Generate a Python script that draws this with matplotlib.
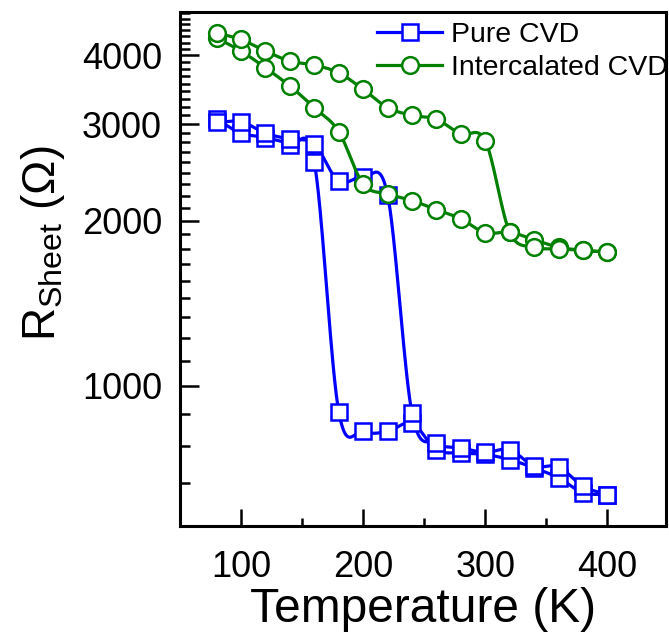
import numpy as np
import matplotlib
matplotlib.use('Agg')
import matplotlib.pyplot as plt
from matplotlib.lines import Line2D
from matplotlib.ticker import FixedLocator, MultipleLocator, NullFormatter

plt.rcParams['font.family'] = ['Liberation Sans', 'DejaVu Sans']
plt.rcParams['mathtext.fontset'] = 'custom'
plt.rcParams['mathtext.rm'] = 'Liberation Sans'
plt.rcParams['mathtext.it'] = 'Liberation Sans:italic'

# temperatures (K), same for every branch
temps = [80, 100, 120, 140, 160, 180, 200, 220, 240, 260, 280, 300, 320, 340, 360, 380, 400]

# Pure CVD, two branches of the hysteresis loop (Ohm)
pure_a = [3060, 2887, 2835, 2749, 2554, 898, 826, 826, 855, 765, 755, 750, 734, 709, 680, 639, 634]
pure_b = [3020, 3030, 2887, 2815, 2757, 2358, 2399, 2228, 892, 787, 771, 757, 765, 714, 712, 656, 634]

# Intercalated CVD, two branches (Ohm)
inter_c = [4305, 4073, 3798, 3518, 3214, 2906, 2333, 2237, 2176, 2095, 2016, 1901, 1906, 1846, 1790, 1766, 1753]
inter_d = [4395, 4277, 4073, 3906, 3841, 3720, 3470, 3214, 3112, 3060, 2875, 2796, 1906, 1790, 1777, 1766, 1753]

y_major = [1000, 2000, 3000, 4000]

BLUE = '#0000ff'
GREEN = '#008000'


def smooth(t, r, n=30):
    # cubic (Catmull-Rom) curve through the points, done in log space like the log axis
    x = np.asarray(t, float)
    y = np.log10(np.asarray(r, float))
    m = np.gradient(y)
    s = np.linspace(0, 1, n, endpoint=False)
    h00 = 2*s**3 - 3*s**2 + 1
    h10 = s**3 - 2*s**2 + s
    h01 = -2*s**3 + 3*s**2
    h11 = s**3 - s**2
    xs, ys = [], []
    for i in range(len(x) - 1):
        xs.append(x[i] + s*(x[i+1] - x[i]))
        ys.append(h00*y[i] + h10*m[i] + h01*y[i+1] + h11*m[i+1])
    xs.append([x[-1]])
    ys.append([y[-1]])
    return np.concatenate(xs), 10**np.concatenate(ys)


fig = plt.figure(figsize=(6.69, 6.34), dpi=100)
ax = fig.add_axes([180/669, 1 - 526/634, (666 - 180)/669, (526 - 12)/634])
ax.set_yscale('log')

lw = 2.3
for data, col, mk, ms, z in [(pure_a, BLUE, 's', 11, 3), (pure_b, BLUE, 's', 11, 3),
                             (inter_c, GREEN, 'o', 12, 5), (inter_d, GREEN, 'o', 12, 5)]:
    xs, ys = smooth(temps, data)
    ax.plot(xs, ys, color=col, lw=lw, zorder=z)
    ax.plot(temps, data, ls='none', marker=mk, ms=ms, mfc='white', mec=col, mew=1.8, zorder=z + 1)

ax.set_xlim(50, 448)
ax.set_ylim(555.6, 4800)

ax.xaxis.set_major_locator(MultipleLocator(100))
ax.xaxis.set_minor_locator(MultipleLocator(50))
ax.set_yticks(y_major, labels=[str(v) for v in y_major])
# minor ticks: 8 per 1000 step
minors = [v for v in np.arange(0, 5000, 1000/9) if 550 < v < 4800 and round(v) % 1000 != 0]
ax.yaxis.set_minor_locator(FixedLocator(minors))
ax.yaxis.set_minor_formatter(NullFormatter())

ax.tick_params(which='both', direction='in', top=False, right=False, width=1.8, labelsize=26)
ax.tick_params(axis='y', which='major', length=14, pad=13)
ax.tick_params(axis='y', which='minor', length=7.5)
ax.tick_params(axis='x', which='major', length=12, pad=17)
ax.tick_params(axis='x', which='minor', length=6)
for sp in ax.spines.values():
    sp.set_linewidth(2.2)

ax.set_xlabel('Temperature (K)', fontsize=34.5)
ax.xaxis.set_label_coords(0.5, -0.118)
ax.xaxis.label.set_va('top')
ax.set_ylabel(r'R$_{\mathrm{Sheet}}$ (Ω)', fontsize=33)
ax.yaxis.set_label_coords(-0.232, 0.55)

handles = [Line2D([], [], color=BLUE, lw=lw, marker='s', ms=11, mfc='white', mec=BLUE, mew=1.8),
           Line2D([], [], color=GREEN, lw=lw, marker='o', ms=12, mfc='white', mec=GREEN, mew=1.8)]
ax.legend(handles, ['Pure CVD', 'Intercalated CVD'], loc='upper left', bbox_to_anchor=(0.405, 0.98),
          frameon=False, fontsize=20.5, handlelength=2.3, handletextpad=0.3, labelspacing=0.22,
          borderpad=0, borderaxespad=0)

fig.savefig('out.png', dpi=100)
